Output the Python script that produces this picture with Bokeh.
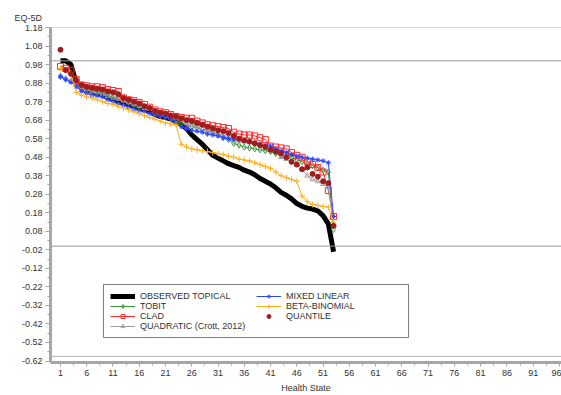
from bokeh.plotting import figure
from bokeh.models import Range1d, FixedTicker, Span, Legend, LegendItem, PrintfTickFormatter
from bokeh.embed import file_html
from bokeh.resources import INLINE

# ---------------- data ----------------
health_state = list(range(1, 54))

observed_topical = [1.00, 1.00, 0.98, 0.88, 0.855, 0.845, 0.835, 0.825, 0.815, 0.80,
                    0.79, 0.78, 0.77, 0.765, 0.755, 0.745, 0.735, 0.725, 0.71, 0.70,
                    0.695, 0.685, 0.675, 0.655, 0.635, 0.60, 0.575, 0.55, 0.52, 0.49,
                    0.475, 0.46, 0.445, 0.435, 0.425, 0.41, 0.40, 0.385, 0.365, 0.35,
                    0.335, 0.315, 0.29, 0.275, 0.255, 0.23, 0.215, 0.205, 0.20, 0.19,
                    0.165, 0.12, -0.03]

tobit = [0.915, 0.90, 0.89, 0.875, 0.86, 0.85, 0.84, 0.83, 0.825, 0.815,
         0.805, 0.80, 0.79, 0.78, 0.765, 0.755, 0.75, 0.745, 0.72, 0.71,
         0.70, 0.685, 0.67, 0.665, 0.655, 0.645, 0.64, 0.63, 0.625, 0.615,
         0.60, 0.585, 0.575, 0.555, 0.545, 0.535, 0.53, 0.525, 0.52, 0.515,
         0.51, 0.50, 0.49, 0.485, 0.475, 0.465, 0.455, 0.445, 0.435, 0.425,
         0.41, 0.40, 0.09]

clad = [0.97, 0.96, 0.95, 0.90, 0.87, 0.865, 0.86, 0.86, 0.855, 0.845,
        0.84, 0.835, 0.80, 0.79, 0.785, 0.775, 0.765, 0.75, 0.735, 0.725,
        0.72, 0.71, 0.70, 0.695, 0.69, 0.69, 0.675, 0.665, 0.655, 0.65,
        0.645, 0.64, 0.635, 0.615, 0.605, 0.60, 0.60, 0.595, 0.585, 0.575,
        0.54, 0.535, 0.53, 0.525, 0.505, 0.49, 0.48, 0.455, 0.44, 0.425,
        0.40, 0.30, 0.16]

quadratic = [0.92, 0.905, 0.89, 0.87, 0.85, 0.845, 0.835, 0.83, 0.82, 0.81,
             0.80, 0.795, 0.785, 0.775, 0.765, 0.755, 0.745, 0.74, 0.73, 0.72,
             0.715, 0.705, 0.695, 0.685, 0.665, 0.655, 0.645, 0.63, 0.62, 0.61,
             0.605, 0.60, 0.59, 0.58, 0.57, 0.565, 0.56, 0.555, 0.545, 0.535,
             0.525, 0.51, 0.48, 0.47, 0.46, 0.44, 0.415, 0.38, 0.36, 0.35,
             0.335, 0.32, 0.11]

mixed_linear = [0.915, 0.90, 0.885, 0.86, 0.835, 0.825, 0.815, 0.81, 0.805, 0.79,
                0.78, 0.77, 0.76, 0.75, 0.74, 0.73, 0.725, 0.715, 0.705, 0.70,
                0.695, 0.685, 0.67, 0.645, 0.635, 0.625, 0.62, 0.615, 0.605, 0.60,
                0.595, 0.585, 0.58, 0.575, 0.575, 0.57, 0.56, 0.555, 0.55, 0.545,
                0.54, 0.525, 0.515, 0.505, 0.495, 0.485, 0.48, 0.475, 0.47, 0.465,
                0.46, 0.45, 0.16]

beta_binomial = [0.96, 0.95, 0.93, 0.83, 0.815, 0.805, 0.80, 0.79, 0.78, 0.77,
                 0.765, 0.755, 0.745, 0.735, 0.725, 0.715, 0.705, 0.695, 0.685, 0.675,
                 0.665, 0.66, 0.655, 0.55, 0.535, 0.525, 0.52, 0.515, 0.51, 0.505,
                 0.50, 0.495, 0.485, 0.48, 0.47, 0.465, 0.46, 0.45, 0.44, 0.43,
                 0.42, 0.40, 0.38, 0.37, 0.36, 0.35, 0.27, 0.24, 0.225, 0.22,
                 0.215, 0.21, 0.13]

quantile = [1.06, 0.95, 0.93, 0.895, 0.87, 0.86, 0.855, 0.85, 0.845, 0.835,
            0.83, 0.82, 0.80, 0.79, 0.78, 0.77, 0.755, 0.745, 0.73, 0.72,
            0.715, 0.705, 0.70, 0.69, 0.68, 0.675, 0.665, 0.655, 0.645, 0.635,
            0.625, 0.62, 0.61, 0.595, 0.58, 0.57, 0.565, 0.555, 0.545, 0.535,
            0.52, 0.51, 0.50, 0.48, 0.455, 0.44, 0.415, 0.425, 0.39, 0.375,
            0.35, 0.34, 0.11]

y_ticks = [-0.62, -0.52, -0.42, -0.32, -0.22, -0.12, -0.02, 0.08, 0.18, 0.28,
           0.38, 0.48, 0.58, 0.68, 0.78, 0.88, 0.98, 1.08, 1.18]
x_ticks = [1, 6, 11, 16, 21, 26, 31, 36, 41, 46, 51, 56, 61, 66, 71, 76, 81, 86, 91, 96]
reference_lines = [1.0, 0.0]

# ---------------- styling ----------------
FONT = "Liberation Sans"
TXT = "#333333"
AXIS_GRAY = "#a6a6a6"
Y_MIN, Y_MAX = -0.628, 1.18

p = figure(width=561, height=395, output_backend="svg", toolbar_location=None,
           x_range=Range1d(-0.9, 96.4), y_range=Range1d(Y_MIN, Y_MAX),
           min_border_left=50, min_border_right=0, min_border_top=27, min_border_bottom=0)

p.title.text = "EQ-5D"
p.title.align = "left"
p.title.offset = -36
p.title.text_font = FONT
p.title.text_font_size = "9px"
p.title.text_font_style = "normal"
p.title.text_color = TXT
p.title.standoff = 9

p.xgrid.visible = False
p.ygrid.visible = False
p.outline_line_color = None

# frame top line and reference lines
p.add_layout(Span(location=Y_MAX, dimension="width", line_color=AXIS_GRAY, line_width=1))
for loc in reference_lines:
    p.add_layout(Span(location=loc, dimension="width", line_color="#9a9a9a", line_width=1))
p.add_layout(Span(location=-0.595, dimension="width", line_color="#b0b0b0", line_width=1))

y_minor = [t + 0.05 for t in y_ticks[:-1]]
x_minor = [t + 2.5 for t in x_ticks[:-1]]
p.yaxis.ticker = FixedTicker(ticks=y_ticks, minor_ticks=y_minor)
p.xaxis.ticker = FixedTicker(ticks=x_ticks, minor_ticks=x_minor)
p.yaxis.formatter = PrintfTickFormatter(format="%.2f")

for ax in (p.xaxis[0], p.yaxis[0]):
    ax.axis_line_color = AXIS_GRAY
    ax.axis_line_width = 3
    ax.major_tick_line_color = AXIS_GRAY
    ax.minor_tick_line_color = AXIS_GRAY
    ax.major_tick_in = 0
    ax.minor_tick_in = 0
    ax.major_tick_out = 5
    ax.minor_tick_out = 3
    ax.major_label_text_font = FONT
    ax.major_label_text_font_size = "9px"
    ax.major_label_text_color = TXT
    ax.major_label_standoff = 3

p.xaxis.major_tick_out = 4
p.xaxis.minor_tick_out = 3
p.xaxis.axis_label = "Health State"
p.xaxis.axis_label_text_font = FONT
p.xaxis.axis_label_text_font_size = "9px"
p.xaxis.axis_label_text_font_style = "normal"
p.xaxis.axis_label_text_color = TXT
p.xaxis.axis_label_standoff = 4

# ---------------- series ----------------
r_obs = p.line(health_state, observed_topical, line_color="black", line_width=5)

def line_marker(values, color, marker, size=5):
    l = p.line(health_state, values, line_color=color, line_width=1)
    s = p.scatter(health_state, values, marker=marker, size=size, line_color=color,
                  fill_color="white", fill_alpha=0, line_width=1)
    return [l, s]

r_tobit = line_marker(tobit, "#3c963c", "diamond", size=6)
r_clad = line_marker(clad, "#ff2a2a", "square", size=6)
r_quad = line_marker(quadratic, "#a0a0a0", "triangle", size=5)
r_mixed = line_marker(mixed_linear, "#2b46ff", "asterisk", size=5)
r_beta = line_marker(beta_binomial, "#ffae1a", "cross", size=6)
r_quant = p.scatter(health_state, quantile, marker="circle", size=5,
                    line_color="#a01c1c", fill_color="#a01c1c")

legend = Legend(items=[
    LegendItem(label="OBSERVED TOPICAL", renderers=[r_obs]),
    LegendItem(label="TOBIT", renderers=r_tobit),
    LegendItem(label="CLAD", renderers=r_clad),
    LegendItem(label="QUADRATIC (Crott, 2012)", renderers=r_quad),
    LegendItem(label="MIXED LINEAR", renderers=r_mixed),
    LegendItem(label="BETA-BINOMIAL", renderers=r_beta),
    LegendItem(label="QUANTILE", renderers=[r_quant]),
], location=(53, 24), orientation="vertical", nrows=4)
legend.border_line_color = "black"
legend.border_line_width = 1
legend.background_fill_color = "white"
legend.background_fill_alpha = 1
legend.padding = 6
legend.spacing = 0
legend.margin = 0
legend.glyph_width = 25
legend.glyph_height = 10
legend.label_height = 10
legend.label_width = 116
legend.label_standoff = 5
legend.label_text_font = FONT
legend.label_text_font_size = "9px"
legend.label_text_color = TXT
p.add_layout(legend, "center")

open("out.html", "w").write(file_html(p, INLINE))
